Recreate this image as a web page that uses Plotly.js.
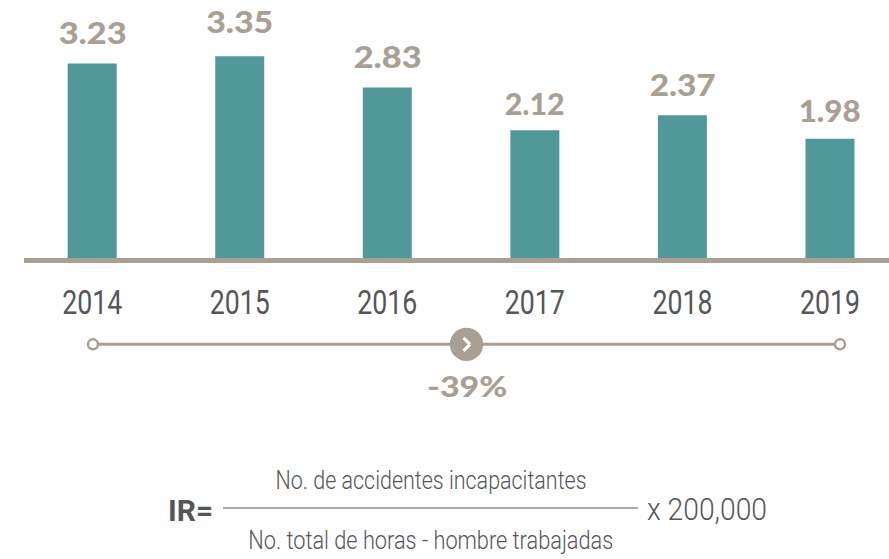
<!DOCTYPE html>
<html><head><meta charset="utf-8">
<script src="https://cdn.plot.ly/plotly-3.0.1.min.js"></script>
<style>html,body{margin:0;padding:0;background:#fff}</style></head>
<body><div id="chart" style="width:889px;height:559px"></div>
<script>
const years = ['2014','2015','2016','2017','2018','2019'];
const values = [3.23,3.35,2.83,2.12,2.37,1.98];
const valueLabels = ['3.23','3.35','2.83','2.12','2.37','1.98'];
const labelGaps = [17,20,17,12,16,14];
const labelWidths = [68,67,68,60,66,62];
const changeLabel = '-39%';
const formulaTop = 'No. de accidentes incapacitantes';
const formulaBottom = 'No. total de horas - hombre trabajadas';
const formulaLeft = 'IR=';
const formulaRight = 'x 200,000';

const W=889,H=559,L=24,PB=258.5;
const TEAL='#52989a',TAUPE='#aa9f95',INK='#54565b';
const LIGHT='Roboto,"Liberation Sans",sans-serif';
const BOLD='Lato,"DejaVu Sans",sans-serif';
const px=x=>(x-L)/(W-L), py=y=>1-y/PB;
const line=(x0,y0,x1,y1,c,w)=>({type:'line',xref:'paper',yref:'paper',x0:px(x0),x1:px(x1),y0:py(y0),y1:py(y1),line:{color:c,width:w},layer:'above'});
const circ=(cx,cy,r,fill,c,w)=>({type:'circle',xref:'paper',yref:'paper',x0:px(cx-r),x1:px(cx+r),y0:py(cy-r),y1:py(cy+r),fillcolor:fill,line:{color:c,width:w},layer:'above'});
const note=(x,y,t,size,color,family,weight)=>({xref:'paper',yref:'paper',x:px(x),y:py(y),text:t,showarrow:false,xanchor:'center',yanchor:'middle',font:{size:size,color:color,family:family,weight:weight||400}});

const shapes=[
 line(93,345,466,345,TAUPE,3),line(466,345,840,345,TAUPE,3),
 circ(93,345,5,'#fff',TAUPE,2.5),circ(840,345,5,'#fff',TAUPE,2.5),
 circ(466.5,345,16.7,TAUPE,TAUPE,0),
 line(463.5,338.5,470,345,'#fff',3),line(470,345,463.5,351.5,'#fff',3),
 line(223,509,638,509,INK,1.2)
];
const annotations=[
 ...years.map((y,i)=>({x:i,y:values[i],xref:'x',yref:'y',text:valueLabels[i],showarrow:false,yanchor:'bottom',yshift:labelGaps[i]-6,
   font:{size:31,color:TAUPE,family:BOLD,weight:900}})),
 note(467,386,changeLabel,29,TAUPE,BOLD,900),
 note(430.5,481,formulaTop,25,INK,LIGHT,300),
 note(431,542,formulaBottom,25,INK,LIGHT,300),
 note(190.5,511,formulaLeft,30,INK,LIGHT,700),
 note(706.5,510,formulaRight,32,INK,LIGHT,300)
];
const fitWidths={[formulaTop]:311,[formulaBottom]:365,[formulaLeft]:45,[formulaRight]:120,[changeLabel]:80};
years.forEach(y=>fitWidths[y]=60);
valueLabels.forEach((v,i)=>fitWidths[v]=labelWidths[i]);
Plotly.newPlot('chart',[{type:'bar',x:years,y:values,width:0.332,marker:{color:TEAL,line:{width:0}},hoverinfo:'x+y',cliponaxis:false}],{
 width:W,height:H,margin:{l:L,r:0,t:0,b:H-PB,pad:0},paper_bgcolor:'#fff',plot_bgcolor:'#fff',showlegend:false,
 xaxis:{type:'category',range:[-0.462,5.4],tickmode:'array',tickvals:years,ticktext:years,showgrid:false,zeroline:false,
   showline:true,linecolor:TAUPE,linewidth:5,ticks:'outside',ticklen:11,tickcolor:'rgba(0,0,0,0)',tickfont:{size:33,color:INK,family:LIGHT,weight:400}},
 yaxis:{range:[0,4.285],showgrid:false,zeroline:false,showline:false,showticklabels:false,ticks:'',fixedrange:true},
 shapes,annotations
},{displayModeBar:false,staticPlot:true}).then(gd=>{
 gd.querySelectorAll('text').forEach(t=>{
  const w=fitWidths[t.textContent];
  if(w){t.setAttribute('textLength',w);t.setAttribute('lengthAdjust','spacingAndGlyphs');}
 });
});
</script></body></html>
